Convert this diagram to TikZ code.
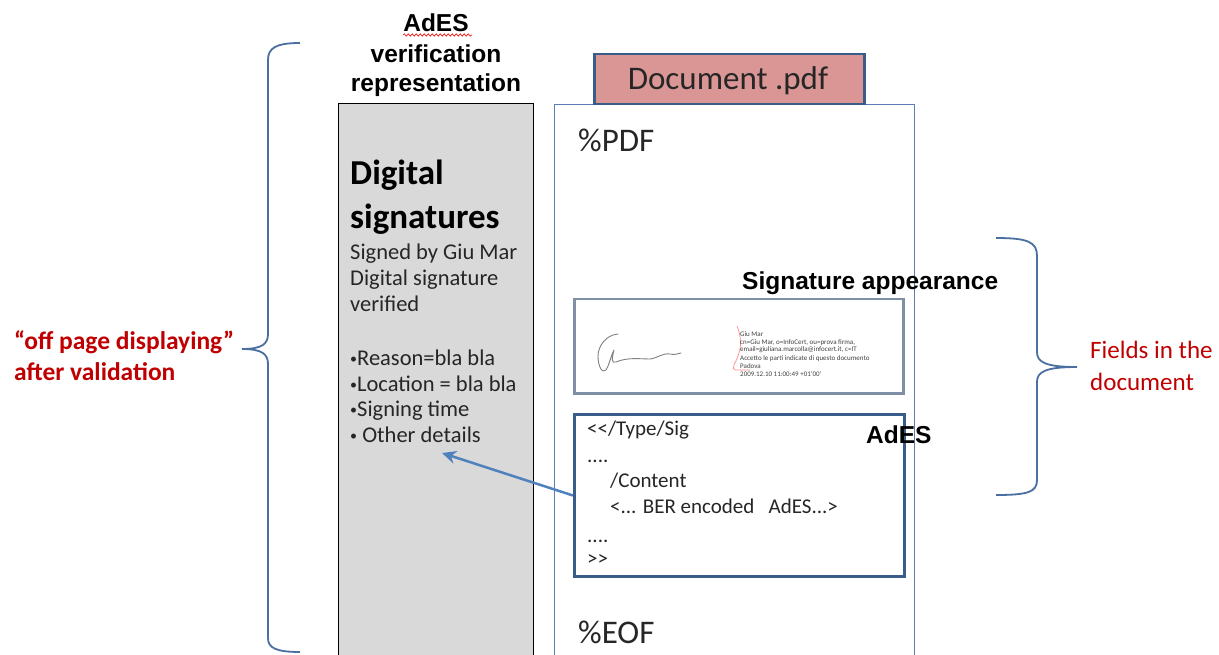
\documentclass[tikz,border=0pt]{standalone}
\usepackage{fontspec}
\setmainfont{Carlito}
\newfontfamily\arialf{Liberation Sans}
\usetikzlibrary{arrows.meta,decorations.pathmorphing}
\definecolor{panelgray}{HTML}{D9D9D9}
\definecolor{docblue}{HTML}{5B7FB5}
\definecolor{tabred}{HTML}{D99694}
\definecolor{darkblue}{HTML}{385D8A}
\definecolor{sigborder}{HTML}{7F8FA6}
\definecolor{arrowblue}{HTML}{4F81BD}
\definecolor{bracecol}{HTML}{4A6FA0}
\definecolor{redtext}{HTML}{C00000}
\definecolor{bodytext}{HTML}{262626}
\newcommand{\smallbullet}{{\fontsize{14}{14}\selectfont\raisebox{1.5pt}{•}}}
\tikzset{
  box/.style={anchor=north west, inner sep=0pt},
  txt/.style={anchor=base west, inner sep=0pt, text=bodytext},
  boldarial/.style={inner sep=0pt, font=\arialf\bfseries\fontsize{24.5}{28}\selectfont},
  panelline/.style={txt, font=\fontsize{22.5}{26}\selectfont},
  codeline/.style={txt, font=\fontsize{21}{24}\selectfont},
  bigtxt/.style={txt, font=\fontsize{33}{38}\selectfont},
  redlabel/.style={anchor=base west, inner sep=0pt, text=redtext},
  sigtiny/.style={anchor=base west, inner sep=0pt, text=black!75, font=\fontsize{7}{8}\selectfont},
  bracestyle/.style={draw=bracecol, line width=1.8pt},
}
\begin{document}
\begin{tikzpicture}[x=1pt,y=-1pt]
\clip (0,0) rectangle (1219,655);
\fill[white] (0,0) rectangle (1219,655);

% --- verification panel ---
\node[box, draw=black, line width=1.2pt, fill=panelgray, minimum width=195pt, minimum height=580pt] (panel) at (338,103) {};
\node[boldarial, anchor=base] (t1) at (436,32) {AdES};
\draw[red, line width=0.6pt, decorate, decoration={snake, amplitude=1.2pt, segment length=4pt}] (403,35) -- (472,35);
\node[boldarial, anchor=base] (t2) at (436,63) {verification};
\node[boldarial, anchor=base] (t3) at (436,92) {representation};

\node[txt, text=black, font=\bfseries\fontsize{35}{40}\selectfont] (ds1) at (350,185) {Digital};
\node[txt, text=black, font=\bfseries\fontsize{35}{40}\selectfont] (ds2) at (350,229) {signatures};
\node[panelline] (p1) at (350,260) {Signed by Giu Mar};
\node[panelline] (p2) at (350,286) {Digital signature};
\node[panelline] (p3) at (350,312) {verified};
\node[panelline] (p4) at (350,365) {\smallbullet Reason=bla bla};
\node[panelline] (p5) at (350,391) {\smallbullet Location = bla bla};
\node[panelline] (p6) at (350,416) {\smallbullet Signing time};
\node[panelline] (p7) at (350,442) {\smallbullet\ Other details};

% --- document ---
\node[box, draw=docblue, line width=1.3pt, fill=white, minimum width=360pt, minimum height=580pt] (doc) at (554,104) {};
\node[box, draw=darkblue, line width=2.5pt, fill=tabred, minimum width=270pt, minimum height=50pt] (tab) at (593,53) {};
\node[bigtxt, anchor=base] (tabtext) at (728,90) {Document .pdf};
\node[bigtxt] (pdf) at (578,152) {\%PDF};
\node[bigtxt] (eof) at (578,643) {\%EOF};

% --- signature appearance ---
\node[box, draw=sigborder, line width=2.5pt, fill=white, minimum width=329pt, minimum height=94pt] (sig) at (573,298) {};
\node[boldarial, anchor=base west] (sigtitle) at (742,290) {Signature appearance};
\draw[gray, line width=0.9pt, line cap=round, line join=round]
  (618,334) .. controls (606,335) and (598,346) .. (598,356)
  .. controls (598,366) and (602,374) .. (606,370)
  .. controls (609,366) and (610,358) .. (614,350)
  .. controls (612,358) and (611,364) .. (616,362)
  .. controls (628,357) and (640,359) .. (650,359)
  .. controls (658,358) and (662,353) .. (670,354)
  .. controls (674,355) and (677,354) .. (681,353);
\draw[red!45, line width=0.7pt]
  (737,326) .. controls (741,336) and (742,346) .. (738,356)
  .. controls (735,364) and (731,369) .. (735,370) -- (750,370);
\node[sigtiny] (s1) at (740,336) {Giu Mar};
\node[sigtiny] (s2) at (740,344) {cn=Giu Mar, o=InfoCert, ou=prova firma,};
\node[sigtiny] (s3) at (740,352) {email=giuliana.marcolla@infocert.it, c=IT};
\node[sigtiny] (s4) at (740,360) {Accetto le parti indicate di questo documento};
\node[sigtiny] (s5) at (740,368) {Padova};
\node[sigtiny] (s6) at (740,376) {2009.12.10 11:00:49 +01'00'};

% --- AdES field ---
\node[box, draw=darkblue, line width=3pt, fill=white, minimum width=330pt, minimum height=162pt] (ades) at (573,413) {};
\node[codeline] (c1) at (587,435) {{<}{<}/Type/Sig};
\node[codeline] (c2) at (587,462) {....};
\node[codeline] (c3) at (610,487) {/Content};
\node[codeline] (c4) at (610,513) {<... BER encoded \ \ AdES...>};
\node[codeline] (c5) at (587,542) {....};
\node[codeline] (c6) at (587,565) {{>}{>}};
\node[boldarial, anchor=base west] (adeslabel) at (866,443) {AdES};

% --- arrow ---
\coordinate (arrowend) at (442,453);
\draw[arrowblue, line width=2.5pt, -{Stealth[length=14pt,width=13pt]}] (ades.west) -- (arrowend);

% --- right brace ---
\draw[bracestyle] (996,238) .. controls (1028,238) and (1037,242) .. (1037,256)
  -- (1037,352) .. controls (1037,362) and (1045,367) .. (1077,367)
  .. controls (1045,367) and (1037,372) .. (1037,382)
  -- (1037,480) .. controls (1037,492) and (1028,495) .. (996,495);
\node[redlabel, font=\fontsize{25}{28}\selectfont] (f1) at (1090,359) {Fields in the};
\node[redlabel, font=\fontsize{25}{28}\selectfont] (f2) at (1090,390) {document};

% --- left brace ---
\draw[bracestyle] (300,43) .. controls (276,43) and (268,48) .. (268,60)
  -- (268,334) .. controls (268,344) and (262,349) .. (242,349)
  .. controls (262,349) and (268,354) .. (268,364)
  -- (268,638) .. controls (268,648) and (276,652) .. (300,652);
\node[redlabel, font=\bfseries\fontsize{25.5}{28}\selectfont] (o1) at (14,349) {“off page displaying”};
\node[redlabel, font=\bfseries\fontsize{25.5}{28}\selectfont] (o2) at (14,380) {after validation};
\end{tikzpicture}
\end{document}
